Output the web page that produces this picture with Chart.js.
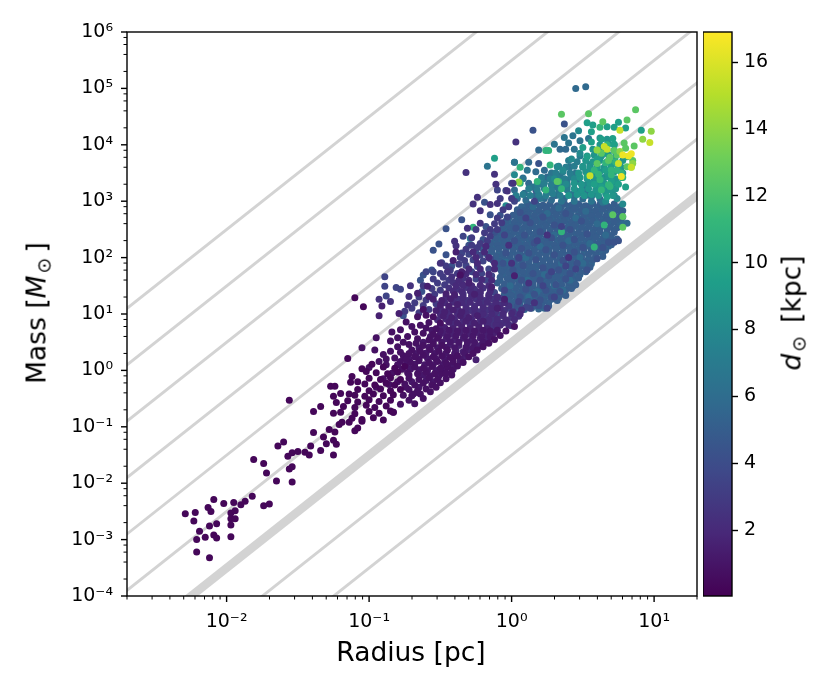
<!DOCTYPE html>
<html>
<head>
<meta charset="utf-8">
<script src="https://cdn.jsdelivr.net/npm/chart.js@4/dist/chart.umd.min.js"></script>
<style>
  html, body { margin: 0; padding: 0; background: #fff; }
  #page { position: relative; width: 830px; height: 692px; overflow: hidden; font-family: "DejaVu Sans", sans-serif; color: #000; }
  canvas { position: absolute; top: 0; }
  .axisLabel { position: absolute; font-size: 26.5px; white-space: nowrap; transform: translate(-50%, -50%); }
  .rot { transform: translate(-50%, -50%) rotate(-90deg); }
  .axisLabel sub { font-size: 19px; line-height: 0; vertical-align: -0.25em; margin: 0 5px 0 2px; }
</style>
</head>
<body>
<div id="page">
  <canvas id="mainChart" width="830" height="692" style="left:0"></canvas>
  <canvas id="barChart" width="127" height="692" style="left:703px"></canvas>
  <div class="axisLabel" style="left:411px;top:651px">Radius [pc]</div>
  <div class="axisLabel rot" style="left:36px;top:313px">Mass [<i>M</i><sub>⊙</sub>]</div>
  <div class="axisLabel rot" style="left:791px;top:313px"><i>d</i><sub style="margin-right:13px">⊙</sub>[kpc]</div>
</div>
<script>
// ---------- Axes ----------

const xMajor = [0.01, 0.1, 1, 10];
const xMajorLabels = ['10⁻²', '10⁻¹', '10⁰', '10¹'];
const xMinor = [0.002, 0.003, 0.004, 0.005, 0.006, 0.007, 0.008, 0.009,
  0.02, 0.03, 0.04, 0.05, 0.06, 0.07, 0.08, 0.09,
  0.2, 0.3, 0.4, 0.5, 0.6, 0.7, 0.8, 0.9,
  2, 3, 4, 5, 6, 7, 8, 9, 20];

const yMajor = [1e-4, 1e-3, 1e-2, 1e-1, 1, 10, 100, 1e3, 1e4, 1e5, 1e6];
const yMajorLabels = ['10⁻⁴', '10⁻³', '10⁻²', '10⁻¹', '10⁰', '10¹', '10²', '10³', '10⁴', '10⁵', '10⁶'];
const yMinor = [2e-4, 4e-4, 6e-4, 8e-4, 2e-3, 4e-3, 6e-3, 8e-3, 2e-2, 4e-2, 6e-2, 8e-2,
  0.2, 0.4, 0.6, 0.8, 2, 4, 6, 8, 20, 40, 60, 80, 200, 400, 600, 800,
  2e3, 4e3, 6e3, 8e3, 2e4, 4e4, 6e4, 8e4, 2e5, 4e5, 6e5, 8e5];

const barTicks = [2, 4, 6, 8, 10, 12, 14, 16];
const barRange = [0.03, 16.9];

// ---------- Guide lines, mass at the two radius ends ----------

const guideRadius = [0.001, 100];
const guideMassLow = [3.14e-8, 3.14e-7, 3.14e-6, 3.14e-5, 3.14e-4, 3.14e-3, 3.14e-2, 3.14e-1, 3.14];
const guideMassHigh = [3.14e2, 3.14e3, 3.14e4, 3.14e5, 3.14e6, 3.14e7, 3.14e8, 3.14e9, 3.14e10];
const guideThick = 2;

// ---------- Clumps, flat pairs of log10 radius, log10 mass ----------

const band03 = [-2.29,-2.54, -2.22,-2.52, -2.23,-2.67, -2.19,-2.85, -2.21,-3.0, -2.15,-2.96, -2.21,-3.22, -2.12,-3.32, -2.12,-2.76, -2.07,-2.72,
  -2.09,-2.92, -2.07,-2.97, -2.13,-2.43, -2.11,-2.5, -2.09,-2.29, -2.02,-2.36, -1.95,-2.34, -1.97,-2.53, -1.94,-2.49, -1.97,-2.63,
  -1.94,-2.63, -1.97,-2.74, -1.97,-2.95, -1.9,-2.38, -1.87,-2.32, -1.82,-2.23, -1.74,-2.4, -1.7,-2.37, -1.81,-1.58, -1.74,-1.65,
  -1.72,-1.82, -1.65,-1.96, -1.54,-1.98, -1.56,-1.75, -1.54,-1.71, -1.64,-1.34, -1.6,-1.27, -1.57,-1.52, -1.54,-1.46, -1.5,-1.44,
  -1.45,-1.45, -1.42,-1.5, -1.41,-1.34, -1.39,-1.1, -1.34,-1.42, -1.32,-1.18, -1.3,-1.3, -1.25,-1.5, -1.25,-1.24, -1.23,-1.31,
  -1.28,-1.05, -1.24,-1.09, -1.21,-0.96, -1.19,-0.92, -1.14,-0.92, -1.1,-1.07, -1.08,-1.02, -1.05,-0.9, -1.56,-0.53,
  -1.39,-0.73, -1.34,-0.64, -1.23,-0.57, -1.25,-0.76, -1.2,-0.41, -1.25,-0.46, -1.14,-0.42, -1.27,-0.28, -1.24,-0.28, -1.08,-0.2,
  -1.13,-0.21, -1.12,-0.11, -1.05,0.03, -1.02,-0.02, -1.15,0.21, -0.98,0.11, -1.1,1.29, -1.04,1.13,
  -1.12,-0.85, -1.05,-0.87, -0.97,-0.84, -0.9,-0.88, -1.2,-0.74, -1.1,-0.77, -1.0,-0.73, -0.93,-0.76, -0.85,-0.72, -0.83,-0.74,
  -1.18,-0.64, -1.1,-0.66, -1.02,-0.62, -0.96,-0.66, -0.88,-0.63, -1.15,-0.54, -1.08,-0.56, -1.0,-0.52, -0.93,-0.55, -0.85,-0.53,
  -1.1,-0.44, -1.03,-0.46, -0.97,-0.42, -0.9,-0.45, -0.83,-0.43, -1.08,-0.34, -1.0,-0.36, -0.92,-0.33, -0.85,-0.36, -0.78,-0.34,
  -1.03,-0.24, -0.96,-0.26, -0.88,-0.23, -0.82,-0.26, -1.0,-0.14, -0.92,-0.16, -0.85,-0.13, -0.78,-0.16, -0.95,-0.04, -0.87,-0.06,
  -0.8,-0.03, -0.9,0.06, -0.82,0.04, -0.75,0.07];
const band08 = [-0.68,-0.59, -0.66,-0.39, -0.83,-0.74, -0.78,-0.6, -0.72,-0.53, -0.76,-0.44, -0.7,-0.45, -0.64,-0.42, -0.72,-0.34, -0.66,-0.36,
  -0.6,-0.33, -0.75,-0.24, -0.68,-0.26, -0.62,-0.23, -0.56,-0.26, -0.72,-0.14, -0.65,-0.16, -0.58,-0.13, -0.52,-0.16, -0.73,-0.04,
  -0.66,-0.06, -0.6,-0.03, -0.54,-0.06, -0.49,-0.05, -0.68,0.06, -0.62,0.04, -0.56,0.07, -0.5,0.04, -0.45,0.06, -0.78,0.16,
  -0.71,0.14, -0.65,0.17, -0.58,0.14, -0.52,0.16, -0.46,0.13, -0.41,0.16, -0.76,0.26, -0.68,0.24, -0.62,0.27, -0.55,0.24,
  -0.49,0.26, -0.43,0.23, -0.38,0.26, -0.7,0.36, -0.64,0.34, -0.57,0.37, -0.51,0.34, -0.45,0.36, -0.72,0.46, -0.62,0.44,
  -0.55,0.47, -0.49,0.44, -0.66,0.56, -0.58,0.54, -0.52,0.57, -0.62,0.66, -0.55,0.64, -0.85,0.34, -0.85,0.52, -0.95,0.58,
  -0.96,0.36, -1.05,0.4, -0.8,0.58, -0.88,0.2, -0.36,1.69, -0.6,0.75, -0.53,0.74, -0.58,0.85, -0.5,0.84, -0.55,0.95,
  -0.95,-0.3, -0.9,-0.15, -0.86,-0.25, -0.8,-0.2, -0.74,-0.3, -0.69,-0.42, -0.62,-0.5, -0.57,-0.38, -0.53,-0.3, -0.5,-0.22, -0.46,-0.15, -0.42,-0.08,
  -0.88,0.1, -0.84,-0.05, -0.77,0.02, -0.72,-0.08, -0.8,0.1, -0.74,0.2, -0.82,0.22, -0.9,0.28, -0.78,0.32, -0.72,0.3, -0.67,0.48, -0.76,0.5, -0.8,0.42,
  -0.73,0.6, -0.68,0.68, -0.64,0.8, -0.7,0.78, -0.66,0.95, -0.6,0.98, -0.62,1.08, -0.74,0.86, -0.78,0.72, -0.84,0.68, -0.46,-0.05, -0.42,0, -0.38,0.08,
  -0.34,0.14, -0.3,0.24, -0.27,0.3, -0.24,0.36, -0.2,0.42, -0.16,0.48, -0.12,0.55, -0.08,0.62, -0.04,0.7, 0.02,0.78, -1.0,0.05, -0.93,0.16];
const band12 = [-0.7,-0.2, -0.65,-0.3, -0.6,-0.18, -0.55,-0.2, -0.62,-0.08, -0.57,-0.1, -0.51,-0.1, -0.47,0, -0.53,0, -0.59,0, -0.65,0.01, -0.71,0.02,
  -0.42,0.1, -0.48,0.11, -0.55,0.1, -0.61,0.1, -0.68,0.11, -0.74,0.1, -0.36,0.2, -0.41,0.21, -0.47,0.2, -0.53,0.2, -0.59,0.21, -0.65,0.2, -0.72,0.2,
  -0.33,0.31, -0.4,0.3, -0.46,0.31, -0.54,0.3, -0.6,0.31, -0.67,0.3, -0.27,0.4, -0.32,0.41, -0.4,0.4, -0.46,0.41, -0.52,0.4, -0.58,0.41, -0.65,0.4,
  -0.2,0.5, -0.26,0.5, -0.31,0.51, -0.37,0.5, -0.43,0.51, -0.49,0.5, -0.55,0.51, -0.62,0.5, -0.15,0.6, -0.21,0.6, -0.27,0.61, -0.33,0.6, -0.39,0.61,
  -0.45,0.6, -0.51,0.61, -0.57,0.6, -0.1,0.71, -0.15,0.7, -0.2,0.71, -0.26,0.7, -0.32,0.71, -0.38,0.7, -0.44,0.71, -0.5,0.7, -0.56,0.71];
const band15 = [-0.49,-0.05, -0.41,0.02, -0.36,0.15, -0.33,0.24, -0.39,0.35, -0.34,0.33, -0.29,0.36, -0.43,0.46, -0.37,0.44, -0.31,0.47,
  -0.26,0.44, -0.46,0.56, -0.4,0.54, -0.34,0.57, -0.28,0.54, -0.22,0.57, -0.17,0.55, -0.48,0.66, -0.42,0.64, -0.36,0.67, -0.3,0.64,
  -0.24,0.67, -0.18,0.64, -0.13,0.66, -0.47,0.76, -0.41,0.74, -0.35,0.77, -0.29,0.74, -0.23,0.77, -0.17,0.74, -0.11,0.68,
  -0.44,0.86, -0.38,0.84, -0.32,0.87, -0.26,0.84, -0.2,0.87, -0.48,0.96, -0.42,0.94, -0.36,0.97, -0.3,0.94, -0.24,0.97,
  -0.53,1.06, -0.47,1.04, -0.41,1.07, -0.35,1.04, -0.5,1.16, -0.44,1.14, -0.38,1.17, -0.55,1.26, -0.49,1.24, -0.43,1.27,
  -0.46,1.36, -0.4,1.34, -0.66,1.37, -0.59,1.49, -0.58,1.31, -0.79,1.01, -0.93,0.97, -0.91,1.14, -0.39,2.1, -0.41,1.95,
  -0.35,1.75, -0.1,1.1, -0.22,0.44, -0.25,0.19, -0.48,0.08, -0.26,1.35, -0.14,1.48, -0.05,1.26, 0.02,1.68, -0.3,1.55];
const band20 = [-0.02,0.8, -0.08,0.8, -0.11,0.81, -0.17,0.8, -0.23,0.81, -0.29,0.8, -0.35,0.81, -0.41,0.8, -0.5,0.8, 0.02,0.9, -0.04,0.9, -0.1,0.91,
  -0.16,0.9, -0.22,0.91, -0.28,0.9, -0.34,0.91, -0.4,0.9, -0.46,0.91, -0.52,0.9, 0.06,1.0, 0,1.01, -0.06,1.0, -0.14,1.0, -0.2,1.01, -0.26,1.0,
  -0.32,1.01, -0.38,1.0, -0.44,1.01, -0.5,1.0, -0.08,1.1, -0.14,1.1, -0.2,1.11, -0.26,1.1, -0.32,1.11, -0.38,1.1, -0.44,1.11, -0.5,1.1,
  -0.05,1.2, -0.11,1.2, -0.17,1.21, -0.23,1.2, -0.29,1.21, -0.35,1.2, -0.41,1.21, -0.47,1.2, -0.1,1.3, -0.16,1.31, -0.22,1.3, -0.28,1.31,
  -0.34,1.3, -0.4,1.31, -0.46,1.3, -0.15,1.41, -0.22,1.4, -0.29,1.41, -0.35,1.4, -0.41,1.41, -0.16,1.5, -0.22,1.51, -0.28,1.5, -0.34,1.51,
  -0.39,1.5, -0.14,1.6, -0.21,1.61, -0.3,1.6, -0.37,1.6, -0.16,1.7, -0.25,1.7, -0.32,1.71, -0.12,1.8, -0.22,1.8, -0.3,1.8, -0.12,1.9, -0.24,1.9,
  -0.16,2.0, -0.25,2.0, -0.19,2.1, -0.27,2.1, -0.18,2.2];
const band25 = [-0.11,0.68, -0.14,0.76, -0.06,0.84, -0.14,0.86, -0.08,0.84, -0.03,0.86, -0.18,0.96, -0.12,0.94, -0.06,0.97, 0,0.94, 0.05,0.96,
  -0.29,1.06, -0.23,1.04, -0.17,1.07, -0.11,1.04, -0.05,1.06, 0.01,1.04, 0.07,1.07, -0.32,1.16, -0.26,1.14, -0.2,1.17, -0.14,1.14,
  -0.08,1.16, -0.02,1.14, -0.37,1.26, -0.31,1.24, -0.25,1.27, -0.19,1.24, -0.13,1.26, -0.34,1.36, -0.28,1.34, -0.22,1.37,
  -0.16,1.34, -0.44,1.46, -0.38,1.44, -0.32,1.47, -0.26,1.44, -0.2,1.46, -0.41,1.56, -0.35,1.54, -0.42,1.66, -0.34,1.64, -0.45,1.75,
  -0.93,1.26, -0.85,1.22, -0.71,1.5, -0.72,1.31, -0.73,1.16, -0.1,2.96, -0.24,3.07, -0.27,2.95, -0.15,2.94, -0.22,2.83,
  -0.4,2.29, -0.39,2.21, -0.5,1.9, -0.12,3.48, -0.11,3.3, -0.32,3.51, -0.22,2.61, -0.31,2.52, 0.03,4.05,
  -0.03,3.18, 0.01,3.32, 0,1.9, 0.12,1.55, -0.02,2.22, 0.25,2.4, 0.4,2.0, 0.16,1.2];
const band30 = [-0.75,1.05, -0.7,1.1, -0.65,1.02, -0.68,1.2, -0.62,1.15, -0.58,1.08, -0.6,1.25, -0.53,1.18, -0.65,1.3, -0.54,1.35, -0.5,1.42, -0.56,1.45,
  -0.62,1.5, -0.52,1.55, -0.47,1.52, -0.55,1.62, -0.48,1.65, -0.44,1.6, -0.5,1.72, -0.43,1.78, -0.38,1.72, -0.46,1.85, -0.37,1.88, -0.33,1.95, -0.36,2.0,
  -0.32,2.15, -0.28,2.22, -0.24,2.18, -0.22,2.25, -0.17,2.3, -0.15,2.38, -0.1,2.5, -0.12,2.6, -0.07,2.62, -0.28,2.35, -0.19,2.44, -0.25,2.5, -0.15,2.5,
  -0.1,2.7, -0.06,2.85, -0.02,2.9, 0,3.05, -0.08,3.05];
const band35 = [-0.89,1.66, -0.89,1.49, -0.88,1.32, -0.81,1.47, -0.78,1.44, -0.6,1.75, -0.49,1.91, -0.55,1.75, -0.35,2.08, -0.34,2.38,
  0,0.79, 0.13,1.1, 0.25,1.1, 0.1,1.12, 0.04,1.0, -0.02,1.1, 0.05,1.22, -0.08,1.28, -0.12,1.38, -0.05,1.42, -0.25,1.62, -0.18,1.6, -0.28,1.75,
  -0.21,1.72, -0.14,1.68, -0.32,1.86, -0.24,1.84, -0.16,1.8, -0.27,1.96, -0.2,1.94, -0.3,2.06, -0.22,2.04, -0.15,1.98, 0.05,2.0, 0.18,2.3,
  0.35,2.55, 0.1,2.7, 0.28,1.75, 0.38,1.85, -0.03,2.72, 0.16,3.0, 0.02,3.0, -0.1,3.2, -0.04,3.19, -0.05,2.4, 0.3,1.3, 0.22,1.5, 0.45,1.8];
const band43 = [-0.08,0.98, 0.04,1.14, 0.12,1.22, 0.19,1.15, 0.06,1.3, 0.2,1.25, 0.16,1.35, 0.28,1.3, 0.34,1.4, 0.24,1.42, 0.1,1.44,
  0.31,1.52, 0.2,1.6, 0.07,1.6, 0.38,1.62, 0.26,1.68, 0.15,1.72, 0.01,1.78, 0.41,1.72, 0.33,1.78, 0.22,1.82, 0.08,1.86, -0.06,1.9, 0.46,1.9,
  0.36,1.95, 0.17,1.96, 0.05,1.98, 0.3,2.05, 0.12,2.08, -0.04,2.08, 0.44,2.1, 0.24,2.14, 0.07,2.16, 0.5,2.18, 0.36,2.22, 0.16,2.26, 0.02,2.3,
  0.44,2.32, 0.28,2.35, 0.09,2.4, 0.53,2.42, 0.2,2.46, 0.41,2.5, 0.03,2.52, 0.3,2.58, 0.13,2.62, 0.49,2.65, 0.22,2.72, 0.38,2.78, 0.06,2.8,
  -0.15,2.76, -0.08,2.75, -0.46,2.51, -0.55,2.13, -0.51,2.24, -0.18,2.55, -0.19,2.98, -0.35,2.67, -0.62,1.69, -0.64,1.6, -0.63,1.4,
  -0.46,2.05, -0.3,2.22, -0.2,2.32, -0.12,2.45, -0.25,2.12, -0.42,1.85, 0.37,4.37, 0.15,4.26, 0,3.32, 0.19,3.67, 0.17,3.2,
  -0.56,1.78, -0.76,0.97, 0.53,1.78, 0.68,2.27, 0.64,2.18, 0.72,2.27, 0.6,1.98, 0.75,2.3];
const band50 = [0.12,2.94, 0.17,2.96, 0.22,2.93, 0.27,2.95, 0.32,2.92, 0.37,2.96, 0.42,2.93, 0.47,2.95, 0.52,2.92, 0.57,2.96, 0.62,2.94, 0.67,2.92, 0.72,2.95,
  0.04,2.85, 0.09,2.83, 0.14,2.86, 0.19,2.84, 0.24,2.86, 0.29,2.83, 0.34,2.85, 0.39,2.83, 0.44,2.86, 0.49,2.84, 0.54,2.85, 0.59,2.83, 0.64,2.86, 0.69,2.84, 0.74,2.85, 0.78,2.83,
  0.01,2.75, 0.06,2.73, 0.11,2.76, 0.16,2.74, 0.21,2.75, 0.26,2.73, 0.31,2.76, 0.36,2.74, 0.41,2.75, 0.46,2.73, 0.51,2.76, 0.56,2.74, 0.61,2.75, 0.66,2.73, 0.71,2.76, 0.76,2.74,
  -0.04,2.65, 0.02,2.63, 0.07,2.66, 0.12,2.64, 0.17,2.65, 0.22,2.63, 0.27,2.66, 0.32,2.64, 0.37,2.65, 0.42,2.63, 0.47,2.66, 0.52,2.64, 0.57,2.65, 0.62,2.63, 0.67,2.66, 0.72,2.64, 0.77,2.65,
  -0.06,2.55, -0.01,2.53, 0.04,2.56, 0.09,2.54, 0.14,2.55, 0.19,2.53, 0.24,2.56, 0.29,2.54, 0.34,2.55, 0.39,2.53, 0.44,2.56, 0.49,2.54, 0.54,2.55, 0.59,2.53, 0.64,2.56, 0.69,2.54, 0.74,2.53,
  -0.08,2.45, -0.03,2.43, 0.02,2.46, 0.07,2.44, 0.12,2.45, 0.17,2.43, 0.22,2.46, 0.27,2.44, 0.32,2.45, 0.37,2.43, 0.42,2.46, 0.47,2.44, 0.52,2.45, 0.57,2.43, 0.62,2.46, 0.67,2.44, 0.72,2.45,
  -0.11,2.35, -0.06,2.33, -0.01,2.36, 0.04,2.34, 0.09,2.35, 0.14,2.33, 0.19,2.36, 0.24,2.34, 0.29,2.35, 0.34,2.33, 0.39,2.36, 0.44,2.34, 0.49,2.35, 0.54,2.33, 0.59,2.36, 0.64,2.34, 0.69,2.35, 0.74,2.33,
  -0.15,2.25, -0.1,2.23, -0.05,2.26, 0,2.24, 0.05,2.25, 0.1,2.23, 0.15,2.26, 0.2,2.24, 0.25,2.25, 0.3,2.23, 0.35,2.26, 0.4,2.24, 0.45,2.25, 0.5,2.23, 0.55,2.26, 0.6,2.24, 0.65,2.25, 0.7,2.23,
  -0.2,2.15, -0.14,2.13, -0.09,2.16, -0.04,2.14, 0.01,2.15, 0.06,2.13, 0.11,2.16, 0.16,2.14, 0.21,2.15, 0.26,2.13, 0.31,2.16, 0.36,2.14, 0.41,2.15, 0.46,2.13, 0.51,2.16, 0.56,2.14, 0.61,2.15, 0.66,2.13,
  -0.17,2.05, -0.11,2.03, -0.06,2.06, -0.01,2.04, 0.04,2.05, 0.09,2.03, 0.14,2.06, 0.19,2.04, 0.24,2.05, 0.29,2.03, 0.34,2.06, 0.39,2.04, 0.44,2.05, 0.49,2.03, 0.54,2.06, 0.59,2.04, 0.64,2.02,
  -0.13,1.95, -0.08,1.93, -0.03,1.96, 0.02,1.94, 0.07,1.95, 0.12,1.93, 0.17,1.96, 0.22,1.94, 0.27,1.95, 0.32,1.93, 0.37,1.96, 0.42,1.94, 0.47,1.95, 0.52,1.93, 0.57,1.96,
  -0.1,1.85, -0.05,1.83, 0,1.86, 0.05,1.84, 0.1,1.85, 0.15,1.83, 0.2,1.86, 0.25,1.84, 0.3,1.85, 0.35,1.83, 0.4,1.86, 0.45,1.84, 0.5,1.85, 0.55,1.83,
  -0.07,1.75, -0.02,1.73, 0.03,1.76, 0.08,1.74, 0.13,1.75, 0.18,1.73, 0.23,1.76, 0.28,1.74, 0.33,1.75, 0.38,1.73, 0.43,1.76, 0.48,1.74, 0.52,1.75,
  -0.08,1.65, -0.03,1.63, 0.02,1.66, 0.07,1.64, 0.12,1.65, 0.17,1.63, 0.22,1.66, 0.27,1.64, 0.32,1.65, 0.37,1.63, 0.42,1.66, 0.47,1.64,
  -0.1,1.55, -0.05,1.53, 0,1.56, 0.05,1.54, 0.1,1.55, 0.15,1.53, 0.2,1.56, 0.25,1.54, 0.3,1.55, 0.35,1.53, 0.4,1.56, 0.45,1.52,
  -0.07,1.45, -0.02,1.43, 0.03,1.46, 0.08,1.44, 0.13,1.45, 0.18,1.43, 0.23,1.46, 0.28,1.44, 0.33,1.45, 0.38,1.43, 0.42,1.45,
  -0.05,1.35, 0,1.33, 0.05,1.36, 0.1,1.34, 0.15,1.35, 0.2,1.33, 0.25,1.36, 0.3,1.34, 0.35,1.35, 0.38,1.33,
  -0.02,1.25, 0.03,1.23, 0.08,1.26, 0.13,1.24, 0.18,1.25, 0.23,1.23, 0.28,1.26, 0.32,1.24,
  0.01,1.15, 0.06,1.13, 0.11,1.16, 0.16,1.14, 0.21,1.15, 0.26,1.14];
const band54 = [0.07,2.9, 0.1,2.91, 0.15,2.89, 0.2,2.91, 0.25,2.9, 0.3,2.88, 0.35,2.9, 0.4,2.91, 0.45,2.89, 0.5,2.9, 0.55,2.91, 0.6,2.89, 0.65,2.9, 0.7,2.89, 0.76,2.9,
  0.04,2.8, 0.08,2.79, 0.12,2.81, 0.17,2.8, 0.22,2.79, 0.27,2.81, 0.32,2.8, 0.37,2.79, 0.42,2.81, 0.47,2.8, 0.52,2.79, 0.57,2.81, 0.62,2.8, 0.67,2.79, 0.72,2.81, 0.77,2.79,
  -0.02,2.7, 0.04,2.69, 0.09,2.71, 0.14,2.7, 0.19,2.69, 0.24,2.71, 0.29,2.7, 0.34,2.69, 0.39,2.71, 0.44,2.7, 0.49,2.69, 0.54,2.71, 0.59,2.7, 0.64,2.69, 0.69,2.71, 0.74,2.7,
  -0.03,2.6, 0,2.59, 0.05,2.61, 0.1,2.6, 0.15,2.59, 0.2,2.61, 0.25,2.6, 0.3,2.59, 0.35,2.61, 0.4,2.6, 0.45,2.59, 0.5,2.61, 0.55,2.6, 0.6,2.59, 0.65,2.61, 0.7,2.6, 0.75,2.59,
  -0.06,2.5, -0.03,2.49, 0.02,2.51, 0.07,2.5, 0.12,2.49, 0.17,2.51, 0.22,2.5, 0.27,2.49, 0.32,2.51, 0.37,2.5, 0.42,2.49, 0.47,2.51, 0.52,2.5, 0.57,2.49, 0.62,2.51, 0.67,2.5, 0.72,2.49,
  -0.09,2.4, -0.05,2.39, 0,2.41, 0.05,2.4, 0.1,2.39, 0.15,2.41, 0.2,2.4, 0.25,2.39, 0.3,2.41, 0.35,2.4, 0.4,2.39, 0.45,2.41, 0.5,2.4, 0.55,2.39, 0.6,2.41, 0.65,2.4, 0.7,2.39,
  -0.12,2.3, -0.08,2.29, -0.03,2.31, 0.02,2.3, 0.07,2.29, 0.12,2.31, 0.17,2.3, 0.22,2.29, 0.27,2.31, 0.32,2.3, 0.37,2.29, 0.42,2.31, 0.47,2.3, 0.52,2.29, 0.57,2.31, 0.62,2.3, 0.67,2.29, 0.72,2.3,
  -0.17,2.2, -0.12,2.19, -0.07,2.21, -0.02,2.2, 0.03,2.19, 0.08,2.21, 0.13,2.2, 0.18,2.19, 0.23,2.21, 0.28,2.2, 0.33,2.19, 0.38,2.21, 0.43,2.2, 0.48,2.19, 0.53,2.21, 0.58,2.2, 0.63,2.19, 0.68,2.2,
  -0.14,2.1, -0.09,2.09, -0.04,2.11, 0.01,2.1, 0.06,2.09, 0.11,2.11, 0.16,2.1, 0.21,2.09, 0.26,2.11, 0.31,2.1, 0.36,2.09, 0.41,2.11, 0.46,2.1, 0.51,2.09, 0.56,2.11, 0.61,2.1, 0.64,2.09,
  -0.1,2.0, -0.06,1.99, -0.01,2.01, 0.04,2.0, 0.09,1.99, 0.14,2.01, 0.19,2.0, 0.24,1.99, 0.29,2.01, 0.34,2.0, 0.39,1.99, 0.44,2.01, 0.49,2.0, 0.54,1.99, 0.59,2.0,
  -0.1,1.9, -0.03,1.89, 0.02,1.91, 0.07,1.9, 0.12,1.89, 0.17,1.91, 0.22,1.9, 0.27,1.89, 0.32,1.91, 0.37,1.9, 0.42,1.89, 0.47,1.91, 0.52,1.9, 0.56,1.89,
  -0.08,1.8, -0.03,1.79, 0.02,1.81, 0.07,1.8, 0.12,1.79, 0.17,1.81, 0.22,1.8, 0.27,1.79, 0.32,1.81, 0.37,1.8, 0.42,1.79, 0.47,1.81, 0.52,1.8,
  -0.06,1.7, -0.01,1.69, 0.04,1.71, 0.09,1.7, 0.14,1.69, 0.19,1.71, 0.24,1.7, 0.29,1.69, 0.34,1.71, 0.39,1.7, 0.44,1.69, 0.48,1.7,
  -0.08,1.6, -0.01,1.59, 0.04,1.61, 0.09,1.6, 0.14,1.59, 0.19,1.61, 0.24,1.6, 0.29,1.59, 0.34,1.61, 0.39,1.6, 0.44,1.59,
  -0.05,1.5, 0,1.49, 0.05,1.51, 0.1,1.5, 0.15,1.49, 0.2,1.51, 0.25,1.5, 0.3,1.49, 0.35,1.51, 0.4,1.5, 0.43,1.49,
  -0.03,1.4, 0.02,1.39, 0.07,1.41, 0.12,1.4, 0.17,1.39, 0.22,1.41, 0.27,1.4, 0.32,1.39, 0.37,1.4,
  -0.01,1.3, 0.04,1.29, 0.09,1.31, 0.14,1.3, 0.19,1.29, 0.24,1.31, 0.29,1.3, 0.33,1.29,
  0.01,1.2, 0.06,1.19, 0.11,1.21, 0.16,1.2, 0.21,1.19, 0.26,1.2, 0.04,1.09, 0.09,1.08, 0.14,1.1, 0.19,1.09, 0.23,1.1];
const band57 = [0.45,5.0, 0.52,5.03, 0.19,3.91, 0.34,3.92, 0.38,3.92, 0.24,3.4, 0.25,3.43, 0.02,3.69, 0.12,3.69, 0.23,3.55, 0.17,3.52,
  0.08,3.41, 0.09,3.14, 0.02,3.2, 0.12,3.32, 0.17,3.1, 0.23,3.05, 0.31,3.1, 0.37,3.05, 0.44,3.08, 0.5,3.04, 0.56,3.08, 0.62,3.04, 0.04,3.05,
  0.1,3.02, 0.28,3.02, 0.15,2.9, 0.33,2.88, 0.52,2.82, 0.7,2.78, 0.78,2.72, 0.81,2.61, 0.78,2.6, 0.6,2.6, 0.45,2.7, 0.25,2.78, 0.66,2.4, 0.3,2.4, 0.55,2.25,
  0.4,2.3, 0.2,2.2, 0.48,2.0, 0.1,2.0, 0.35,1.9, 0.5,1.9, 0.23,1.7, 0.41,1.6, 0.11,1.6, 0.3,1.5, 0.18,1.4, 0.36,1.42, 0.12,1.3, -0.01,1.5, -0.04,1.92];
const band65 = [0.37,4.13, 0.43,4.16, 0.48,4.07, 0.3,4.01, 0.4,4.03, 0.44,3.92, 0.54,4.11, 0.41,3.61, 0.02,3.69, -0.17,3.62, 0.11,3.55,
  0.08,3.4, 0.39,3.38, 0.47,3.35, 0.39,3.26, 0.31,3.26, 0.46,3.17, 0.53,3.2, 0.42,3.12, 0.25,3.15, 0.33,3.2, 0.57,3.12, 0.28,3.28, 0.5,3.28, -0.29,2.34,
  0.35,3.0, 0.44,3.0, 0.56,3.0, 0.2,3.05, 0.64,2.98, 0.52,3.1, 0.6,3.15, 0.15,3.25, 0.2,3.3, 0.34,3.45, 0.45,3.5, 0.28,3.5];
const band72 = [0.03,3.1, 0.08,3.12, 0.13,3.1, 0.19,3.12, 0.24,3.1, 0.29,3.13, 0.34,3.1, 0.12,3.22, 0.18,3.2, 0.23,3.22, 0.28,3.2, 0.34,3.23, 0.39,3.2,
  0.18,3.3, 0.23,3.32, 0.28,3.3, 0.34,3.32, 0.39,3.3, 0.21,3.42, 0.27,3.4, 0.32,3.42, 0.37,3.4, 0.42,3.43, 0.31,3.5, 0.36,3.52, 0.41,3.5, 0.33,3.62,
  0.38,3.6, 0.44,3.62, 0.4,3.72, 0.46,3.7, 0.48,3.8];
const band80 = [0.47,4.25, 0.48,3.85, 0.32,3.61, 0.02,3.47, 0.42,3.75, 0.36,3.55, 0.5,3.6, 0.55,3.65, 0.44,3.4, 0.58,3.4, 0.62,3.3, 0.53,3.3,
  0.67,3.2, 0.72,3.1, 0.48,3.15, 0.66,3.0, 0.74,3.05, 0.78,2.95, 0.3,3.4, 0.38,3.3, 0.55,3.5, 0.71,3.2, 0.65,3.42, -0.04,2.92];
const band88 = [0.4,3.1, 0.46,3.12, 0.51,3.1, 0.56,3.12, 0.61,3.1, 0.66,3.13, 0.71,3.1, 0.44,3.22, 0.49,3.2, 0.54,3.22, 0.59,3.2, 0.64,3.23, 0.69,3.2, 0.73,3.22,
  0.44,3.32, 0.49,3.3, 0.55,3.32, 0.6,3.3, 0.65,3.32, 0.7,3.3, 0.74,3.32, 0.48,3.42, 0.53,3.4, 0.58,3.42, 0.63,3.4, 0.68,3.43, 0.73,3.4, 0.77,3.42,
  0.47,3.5, 0.52,3.52, 0.57,3.5, 0.62,3.52, 0.67,3.5, 0.72,3.52, 0.78,3.5, 0.5,3.62, 0.55,3.6, 0.6,3.62, 0.65,3.6, 0.7,3.62, 0.77,3.6, 0.52,3.72,
  0.57,3.7, 0.62,3.72, 0.67,3.7, 0.72,3.72, 0.78,3.72, 0.53,3.8, 0.58,3.82, 0.63,3.8, 0.68,3.82, 0.73,3.8, 0.57,3.92, 0.62,3.9, 0.67,3.92, 0.72,3.9,
  0.62,4.0, 0.68,4.02, 0.72,4.0, 0.62,4.12, 0.67,4.1];
const band95 = [0.53,4.39, 0.75,4.4, 0.56,4.23, 0.72,4.31, 0.67,4.32, 0.8,4.3, 0.91,4.26, 0.71,4.11, 0.72,4.01, 0.57,4.35, 0.56,4.05, 0.53,3.79, 0.81,3.79,
  0.53,3.44, 0.67,3.08, 0.66,3.55, 0.7,3.65, 0.6,3.75, 0.65,3.85, 0.75,3.6, 0.58,3.3, 0.63,3.25, 0.75,3.3, 0.8,3.25, 0.7,3.35, 0.6,3.6, 0.5,3.95, 0.63,4.1, -0.12,3.76];
const band110 = [0.62,4.31, 0.67,4.0, 0.74,3.55, 0.7,3.55, 0.58,3.55, 0.27,3.64, 0.33,3.35, 0.18,3.35, 0.06,3.32, 0.68,3.29, 0.63,3.2, 0.24,3.9, 0.26,3.9, 0.06,3.6,
  0.35,3.22, 0.62,3.38, 0.73,3.7, 0.78,3.42, 0.69,3.26, -0.27,2.54, 0.35,2.46, 0.58,2.19, 0.65,2.58, 0.24,3.2, 0.7,3.47, 0.61,3.48, 0.66,3.68, 0.77,3.5];
const band125 = [0.35,4.54, 0.54,4.55, 0.87,4.62, 0.64,4.41, 0.81,4.44, 0.79,4.03, 0.86,3.98, 0.8,3.94, 0.63,3.85, 0.6,3.67, 0.6,3.91, 0.81,3.61, 0.78,2.73, 0.78,2.54,
  0.71,2.76, 0.69,3.78, 0.74,3.82, 0.68,3.72, 0.72,3.9, 0.85,3.72, 0.32,3.35];
const band140 = [0.98,4.24, 0.92,4.1, 0.85,3.67, 0.6,3.91, 0.05,3.34, 0.84,3.6, 0.76,3.88];
const band155 = [0.76,4.26, 0.97,4.04, 0.75,3.67, 0.55,3.45, 0.84,3.6, 0.65,3.97, 0.67,3.92];
const band165 = [0.78,3.82, 0.84,3.84, 0.77,3.44, 0.82,3.8];

// drawn in this order, later ones on top
const bands = [band54, band50, band57, band43, band65, band72, band80, band88, band95, band110, band125, band140, band155, band165, band35, band30, band25, band20, band15, band12, band08, band03];
const bandDistance = [5.4, 5.0, 5.8, 4.3, 6.5, 7.2, 8.0, 8.8, 9.5, 11.0, 12.5, 14.0, 15.5, 16.5, 3.5, 3.0, 2.5, 2.0, 1.5, 1.1, 0.8, 0.3];

// viridis stops over the colour bar
const viridis = ['#440154', '#482878', '#3e4989', '#31688e', '#26828e', '#1f9e89', '#35b779', '#6ece58', '#b5de2b', '#fde725'];

// ---------- Helpers ----------

function hexToRgb(hex) {
    return [1, 3, 5].map(i => parseInt(hex.slice(i, i + 2), 16));
}

function colorFor(d) {
    const t = (d - barRange[0]) / (barRange[1] - barRange[0]) * (viridis.length - 1);
    const i = Math.min(viridis.length - 2, Math.floor(t));
    const a = hexToRgb(viridis[i]);
    const b = hexToRgb(viridis[i + 1]);
    const c = a.map((v, k) => Math.round(v + (b[k] - v) * (t - i)));
    return `rgb(${c[0]},${c[1]},${c[2]})`;
}

function toPoints(flat) {
    const pts = [];
    for (let i = 0; i < flat.length; i += 2) {
        pts.push({ x: Math.pow(10, flat[i]), y: Math.pow(10, flat[i + 1]) });
    }
    return pts;
}

// outward ticks and the box, same look on both charts
const framePlugin = {
    id: 'frame',
    afterDraw(chart) {
        const { ctx, chartArea: a, scales } = chart;
        ctx.save();
        ctx.strokeStyle = '#000';
        if (scales.x.type === 'logarithmic') {
            const tick = (scale, v, len, w) => {
                const p = scale.getPixelForValue(v);
                ctx.lineWidth = w;
                ctx.beginPath();
                if (scale.axis === 'x') {
                    ctx.moveTo(p, a.bottom);
                    ctx.lineTo(p, a.bottom + len);
                } else {
                    ctx.moveTo(a.left, p);
                    ctx.lineTo(a.left - len, p);
                }
                ctx.stroke();
            };
            xMinor.forEach(v => tick(scales.x, v, 3.5, 1));
            yMinor.forEach(v => tick(scales.y, v, 3.5, 1));
            xMajor.forEach(v => tick(scales.x, v, 6, 1.4));
            yMajor.forEach(v => tick(scales.y, v, 6, 1.4));
        }
        ctx.lineWidth = 1.4;
        ctx.strokeRect(a.left, a.top, a.right - a.left, a.bottom - a.top);
        ctx.restore();
    }
};

const tickFont = { family: '"DejaVu Sans"', size: 19 };

// ---------- Main scatter ----------

const datasets = [];

bands.forEach((band, i) => {
    datasets.push({
        type: 'scatter',
        data: toPoints(band),
        backgroundColor: colorFor(bandDistance[i]),
        borderWidth: 0,
        pointRadius: 3.5,
        pointHoverRadius: 3.5
    });
});

guideMassLow.forEach((low, i) => {
    datasets.push({
        type: 'scatter',
        showLine: true,
        data: [{ x: guideRadius[0], y: low }, { x: guideRadius[1], y: guideMassHigh[i] }],
        borderColor: '#d3d3d3',
        borderWidth: i === guideThick ? 8.5 : 2.9,
        pointRadius: 0
    });
});

// later datasets go underneath, so give the guide lines and first bands a high order
datasets.forEach((d, i) => {
    d.order = i < bands.length ? bands.length - i : bands.length + 1;
});

new Chart(document.getElementById('mainChart'), {
    type: 'scatter',
    data: { datasets },
    options: {
        responsive: false,
        animation: false,
        events: [],
        layout: { padding: { top: 32, right: 133, bottom: 0, left: 0 } },
        plugins: { legend: { display: false }, tooltip: { enabled: false } },
        scales: {
            x: {
                type: 'logarithmic',
                min: 0.002,
                max: 20,
                grid: { display: false },
                border: { display: false },
                afterFit(scale) { scale.height = 96; },
                afterBuildTicks(scale) { scale.ticks = xMajor.map(value => ({ value })); },
                ticks: {
                    autoSkip: false,
                    maxRotation: 0,
                    padding: 7,
                    color: '#000',
                    font: tickFont,
                    callback: value => xMajorLabels[xMajor.indexOf(value)]
                }
            },
            y: {
                type: 'logarithmic',
                min: 1e-4,
                max: 1e6,
                grid: { display: false },
                border: { display: false },
                afterFit(scale) { scale.width = 127; },
                afterBuildTicks(scale) { scale.ticks = yMajor.map(value => ({ value })); },
                ticks: {
                    autoSkip: false,
                    padding: 6,
                    color: '#000',
                    font: tickFont,
                    callback: value => yMajorLabels[yMajor.indexOf(value)]
                }
            }
        }
    },
    plugins: [framePlugin]
});

// ---------- Colour bar ----------

new Chart(document.getElementById('barChart'), {
    type: 'bar',
    data: {
        labels: [''],
        datasets: [{
            data: [barRange],
            barPercentage: 1,
            categoryPercentage: 1,
            backgroundColor(context) {
                const a = context.chart.chartArea;
                if (!a) return viridis[0];
                const g = context.chart.ctx.createLinearGradient(0, a.bottom, 0, a.top);
                viridis.forEach((c, i) => g.addColorStop(i / (viridis.length - 1), c));
                return g;
            }
        }]
    },
    options: {
        responsive: false,
        animation: false,
        events: [],
        layout: { padding: { top: 32, right: 0, bottom: 96, left: 0 } },
        plugins: { legend: { display: false }, tooltip: { enabled: false } },
        scales: {
            x: { display: false },
            y: {
                position: 'right',
                min: barRange[0],
                max: barRange[1],
                grid: { drawOnChartArea: false, tickLength: 6, tickWidth: 1.4, tickColor: '#000' },
                border: { display: false },
                afterFit(scale) { scale.width = 98; },
                afterBuildTicks(scale) { scale.ticks = barTicks.map(value => ({ value })); },
                ticks: { padding: 6, color: '#000', font: tickFont }
            }
        }
    },
    plugins: [framePlugin]
});
</script>
</body>
</html>
